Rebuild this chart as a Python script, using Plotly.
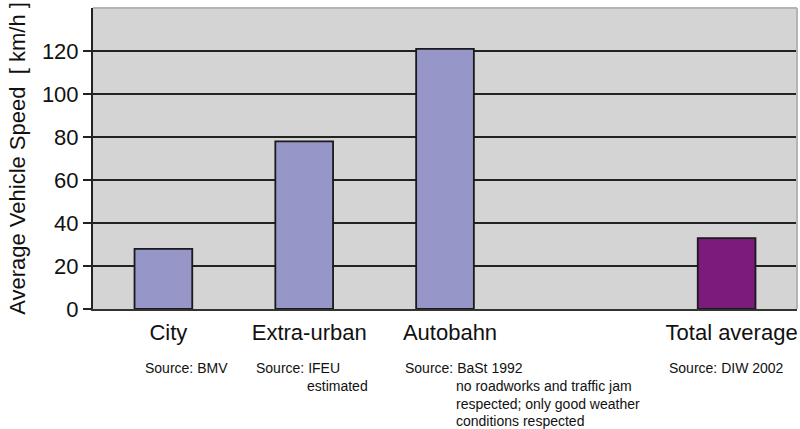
import plotly.graph_objects as go

# Average vehicle speed by road type (km/h)
categories = ["City", "Extra-urban", "Autobahn", " ", "Total average"]
speeds = [28, 78, 121, None, 33]
bar_colors = ["#9696c8", "#9696c8", "#9696c8", "#9696c8", "#7b1b7b"]
y_ticks = [0, 20, 40, 60, 80, 100, 120]

# Source notes under each category: (category, lines)
source_notes = [
    ("City", ["Source: BMV"]),
    ("Extra-urban", ["Source: IFEU", "estimated"]),
    ("Autobahn", ["Source: BaSt 1992", "no roadworks and traffic jam",
                  "respected; only good weather", "conditions respected"]),
    ("Total average", ["Source: DIW 2002"]),
]
# horizontal offsets (px) of each note block from its category centre,
# and the indent used for continuation lines
note_shift = {"City": -20, "Extra-urban": -50, "Autobahn": -42, "Total average": -60}
indent_shift = {"Extra-urban": 51, "Autobahn": 51}

FONT = "Arial, Liberation Sans, sans-serif"

fig = go.Figure(
    go.Bar(
        x=categories,
        y=speeds,
        marker=dict(color=bar_colors, line=dict(color="#1a1a1a", width=1.8)),
        width=0.41,
        hoverinfo="x+y",
    )
)

annotations = []
for cat, lines in source_notes:
    for i, line in enumerate(lines):
        shift = note_shift[cat] + (indent_shift.get(cat, 0) if i > 0 else 0)
        annotations.append(dict(
            x=cat, xref="x", xanchor="left", xshift=shift,
            y=0, yref="paper", yanchor="middle", yshift=-59 - 17.8 * i,
            text=line, showarrow=False,
            font=dict(family=FONT, size=14, color="#111111"),
        ))

fig.update_layout(
    width=800, height=429,
    margin=dict(l=93, r=3, t=8, b=120),
    paper_bgcolor="white",
    plot_bgcolor="#d4d4d4",
    showlegend=False,
    font=dict(family=FONT, color="#111111"),
    annotations=annotations,
)

fig.update_xaxes(
    type="category",
    range=[-0.5, 4.5],
    showgrid=False,
    showline=True, linecolor="#333333", linewidth=1.5,
    ticks="", ticklabelstandoff=3, ticklabelshift=5,
    tickfont=dict(family=FONT, size=22, color="#111111"),
)
fig.update_yaxes(
    range=[0, 140],
    tickvals=y_ticks,
    ticks="outside", ticklen=8, tickwidth=1.5, tickcolor="#222222",
    tickfont=dict(family=FONT, size=22, color="#111111"),
    showgrid=True, gridcolor="#222222", gridwidth=1.5,
    showline=True, linecolor="#222222", linewidth=2,
    zeroline=False,
    title=dict(text="Average Vehicle Speed  [ km/h ]",
               font=dict(family=FONT, size=22, color="#111111"),
               standoff=10),
)

# light border on top and right of the plotting area
fig.add_shape(type="line", xref="paper", yref="paper", x0=0, x1=1, y0=1, y1=1,
              line=dict(color="#b4b4b4", width=2))
fig.add_shape(type="line", xref="paper", yref="paper", x0=1, x1=1, y0=0, y1=1,
              line=dict(color="#b4b4b4", width=2))

fig.write_html("out.html")
